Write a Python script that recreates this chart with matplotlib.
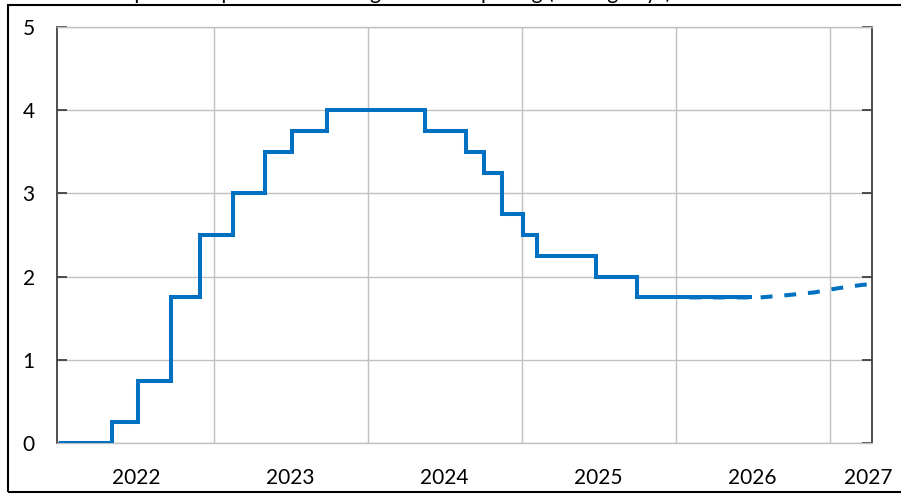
import matplotlib
matplotlib.use('Agg')
import matplotlib.pyplot as plt
import matplotlib.patches as mpatches
import pandas as pd

plt.rcParams['font.family'] = ['Lato', 'DejaVu Sans']

# Policy rate, step changes (effective dates) in percent
STEP_DATES = ['2022-01-03', '2022-05-04', '2022-07-06', '2022-09-21', '2022-11-30',
              '2023-02-15', '2023-05-03', '2023-07-05', '2023-09-27', '2024-05-15',
              '2024-08-21', '2024-10-02', '2024-11-13', '2025-01-02', '2025-02-05',
              '2025-06-25', '2025-10-01']
STEP_RATES = [0.0, 0.25, 0.75, 1.75, 2.5, 3.0, 3.5, 3.75, 4.0, 3.75,
              3.5, 3.25, 2.75, 2.5, 2.25, 2.0, 1.75]
SOLID_END = '2026-06-24'

# Expected path (dashed)
FC_DATES = ['2026-02-01', '2026-06-24', '2026-07-20', '2026-09-27', '2026-11-24',
            '2027-01-19', '2027-03-17', '2027-04-10']
FC_RATES = [1.75, 1.75, 1.75, 1.78, 1.81, 1.86, 1.90, 1.91]

YEAR_LABELS = ['2022', '2023', '2024', '2025', '2026', '2027']
LABEL_POS = ['2022-07-01', '2023-07-01', '2024-07-01', '2025-07-01', '2026-07-01', '2027-04-01']
GRID_YEARS = ['2023-01-01', '2024-01-01', '2025-01-01', '2026-01-01', '2027-01-01']

TITLE = 'Expected repo rate according to market pricing (trading days)'

BLUE = '#0070C0'
GRID = '#C0C0C0'
DARK = '#404040'

fig = plt.figure(figsize=(9.01, 4.94), dpi=100)
ax = fig.add_axes([57 / 901, 51 / 494, 815 / 901, 416 / 494])

sd = pd.to_datetime(STEP_DATES + [SOLID_END])
sr = STEP_RATES + [STEP_RATES[-1]]
ax.step(sd, sr, where='post', color=BLUE, lw=2.9, solid_joinstyle='miter', zorder=3)
ax.plot(pd.to_datetime(FC_DATES), FC_RATES, color=BLUE, lw=2.9,
        linestyle=(0, (2.95, 2.95)), dash_capstyle='butt', zorder=3)

ax.set_xlim(pd.Timestamp('2021-12-25'), pd.Timestamp('2027-04-10'))
ax.set_ylim(0, 5)

ax.set_xticks(pd.to_datetime(GRID_YEARS))
ax.set_xticklabels([])
ax.set_xticks(pd.to_datetime(LABEL_POS), minor=True)
ax.set_xticklabels(YEAR_LABELS, minor=True)
ax.tick_params(axis='x', which='both', length=0)
ax.tick_params(axis='x', which='minor', labelsize=15, pad=18)
ax.grid(axis='x', which='major', color=GRID, lw=1)

ax.set_yticks(range(0, 6))
ax.tick_params(axis='y', direction='in', length=7, width=1.3, color=DARK,
               labelsize=15, pad=16, left=True, right=True)
ax.grid(axis='y', color=GRID, lw=1)

for side in ['top', 'bottom']:
    ax.spines[side].set_color(GRID)
    ax.spines[side].set_linewidth(1)
for side in ['left', 'right']:
    ax.spines[side].set_color(DARK)
    ax.spines[side].set_linewidth(1.3)

# heading sits above the frame and is cut by the top edge, as in the source
fig.text(112 / 901, 1 + 1 / 494, TITLE, fontsize=15, va='baseline', ha='left')

# outer frame
frame = mpatches.Rectangle((8 / 901, 2 / 494), 1.1, 487 / 494, transform=fig.transFigure,
                           fill=False, edgecolor='black', lw=1.5, clip_on=False)
fig.patches.append(frame)

fig.savefig('out.png', dpi=100)
